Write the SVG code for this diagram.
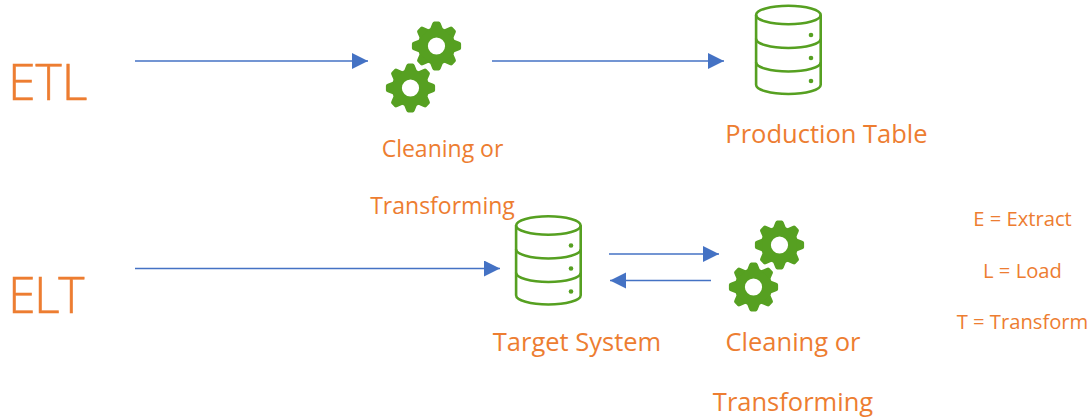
<svg xmlns="http://www.w3.org/2000/svg" xmlns:xlink="http://www.w3.org/1999/xlink" width="1092" height="417" viewBox="0 0 1092 417">
<style>
text{font-family:"Open Sans","Noto Sans","Liberation Sans",sans-serif;fill:#ed7d31}
.big{font-size:50px;font-weight:300;stroke:#ed7d31;stroke-width:.5px}
.m{font-size:25.500px}
.s{font-size:23px}
.xs{font-size:20.200px}
.c{stroke:#4472c4;stroke-width:1.5;fill:none;marker-end:url(#a)}
.db{fill:none;stroke:#56a021;stroke-width:2.600;stroke-linejoin:round}
</style>
<defs>
<marker id="a" markerUnits="userSpaceOnUse" markerWidth="16" markerHeight="18" refX="16" refY="8" orient="auto"><path d="M0,0L16,8L0,16Z" fill="#4472c4"/></marker>
<path id="t" d="M-6.500,-17L-4.200,-22.800Q-3.500,-24.600-2.200,-24.600H2.200Q3.500,-24.600,4.200,-22.800L6.500,-17Z" fill="#56a021"/>
<g id="gear">
<circle r="18.800" fill="#56a021"/>
<use xlink:href="#t" href="#t"/>
<use xlink:href="#t" href="#t" transform="rotate(45)"/>
<use xlink:href="#t" href="#t" transform="rotate(90)"/>
<use xlink:href="#t" href="#t" transform="rotate(135)"/>
<use xlink:href="#t" href="#t" transform="rotate(180)"/>
<use xlink:href="#t" href="#t" transform="rotate(225)"/>
<use xlink:href="#t" href="#t" transform="rotate(270)"/>
<use xlink:href="#t" href="#t" transform="rotate(315)"/>
<circle r="8.600" fill="#fff"/>
</g>
<g id="dbi">
<ellipse class="db" cx="788.400" cy="15" rx="32.300" ry="9.300"/>
<path class="db" d="M756.100,15V84.700A32.300,9.300,0,0,0,820.700,84.700V15"/>
<path class="db" d="M756.100,38.700A32.300,9.300,0,0,0,820.700,38.700"/>
<path class="db" d="M756.100,62.200A32.300,9.300,0,0,0,820.700,62.200"/>
<circle cx="811" cy="35" r="2.300" fill="#56a021"/>
<circle cx="811" cy="58" r="2.300" fill="#56a021"/>
<circle cx="811" cy="81" r="2.300" fill="#56a021"/>
</g>
</defs>
<g id="connectors">
<path class="c" d="M135,61H368"/>
<path class="c" d="M492,61H724"/>
<path class="c" d="M135,268.500H500"/>
<path class="c" d="M609,254H719"/>
<path class="c" d="M711,280.500H610"/>
</g>
<g id="etl"><text class="big" x="8" y="100">ETL</text></g>
<g id="elt"><text class="big" x="8" y="313" letter-spacing="-1.500">ELT</text></g>
<g id="gears-etl"><use xlink:href="#gear" href="#gear" x="436.500" y="46"/><use xlink:href="#gear" href="#gear" x="410.500" y="88"/>
<text class="s" x="442.500" y="157" text-anchor="middle">Cleaning or</text>
<text class="s" x="442.500" y="214" text-anchor="middle">Transforming</text></g>
<g id="production-table"><use xlink:href="#dbi" href="#dbi"/><text class="m" x="826.500" y="143" text-anchor="middle">Production Table</text></g>
<g id="target-system"><use xlink:href="#dbi" href="#dbi" x="-240" y="210.500"/><text class="m" x="577" y="351" text-anchor="middle">Target System</text></g>
<g id="gears-elt"><use xlink:href="#gear" href="#gear" x="779.500" y="245"/><use xlink:href="#gear" href="#gear" x="753.500" y="287"/>
<text class="m" x="793" y="351" text-anchor="middle">Cleaning or</text>
<text class="m" x="793" y="411" text-anchor="middle">Transforming</text></g>
<g id="legend">
<text class="xs" x="1022.500" y="226" text-anchor="middle">E = Extract</text>
<text class="xs" x="1022.500" y="278" text-anchor="middle">L = Load</text>
<text class="xs" x="1022.500" y="329" text-anchor="middle">T = Transform</text>
</g>
</svg>
